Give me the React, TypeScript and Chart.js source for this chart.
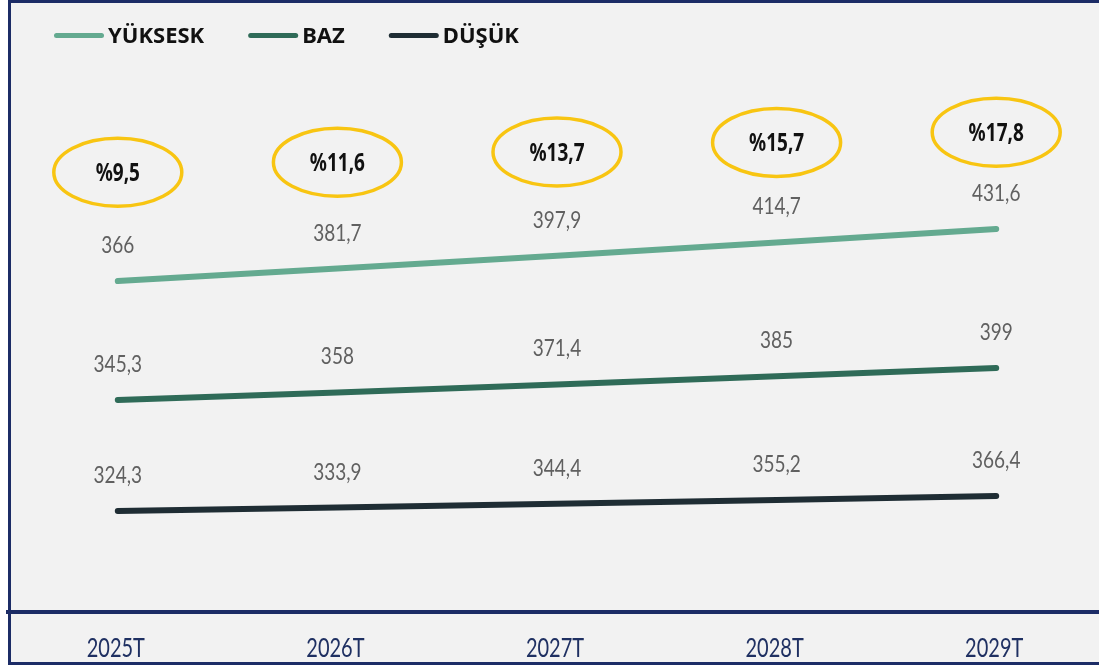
import React, { useEffect, useRef } from 'react';
import { Chart, registerables } from 'chart.js';

Chart.register(...registerables);

// ---- data ----
const categories: string[] = ['2025T', '2026T', '2027T', '2028T', '2029T'];
const yuksekValues: number[] = [366, 381.7, 397.9, 414.7, 431.6];
const bazValues: number[] = [345.3, 358, 371.4, 385, 399];
const dusukValues: number[] = [324.3, 333.9, 344.4, 355.2, 366.4];
const growthValues: number[] = [9.5, 11.6, 13.7, 15.7, 17.8];
const seriesNames: string[] = ['YÜKSESK', 'BAZ', 'DÜŞÜK'];
const seriesColors: string[] = ['#64aa90', '#2f6b58', '#1f2d34'];

// ---- hidden axis ranges (each series is drawn on its own scale) ----
const yuksekRange = { min: -51.57, max: 644.8 };
const bazRange = { min: -10.46, max: 915.85 };
const dusukRange = { min: 40.83, max: 1590.1 };
const growthRange = { min: -81.73, max: 32.79 };

const NAVY = '#1c2c66';
const fmt = (v: number) => String(v).replace('.', ',');

function stretchedText(
  ctx: CanvasRenderingContext2D,
  text: string,
  x: number,
  baseline: number,
  font: string,
  color: string,
  sy: number,
  align: CanvasTextAlign = 'center'
) {
  ctx.save();
  ctx.translate(x, baseline);
  ctx.scale(1, sy);
  ctx.font = font;
  ctx.fillStyle = color;
  ctx.textAlign = align;
  ctx.textBaseline = 'alphabetic';
  ctx.fillText(text, 0, 0);
  ctx.restore();
}

const overlayPlugin = {
  id: 'overlay',
  afterDatasetsDraw(chart: any) {
    const ctx: CanvasRenderingContext2D = chart.ctx;
    // value labels
    for (let d = 0; d < 3; d++) {
      const meta = chart.getDatasetMeta(d);
      meta.data.forEach((pt: any, i: number) => {
        const v = chart.data.datasets[d].data[i] as number;
        stretchedText(ctx, fmt(v), pt.x, pt.y - 28, '400 19px Lato', '#606060', 1.22);
      });
    }
    // growth ellipses
    const gm = chart.getDatasetMeta(3);
    gm.data.forEach((pt: any, i: number) => {
      ctx.save();
      ctx.beginPath();
      ctx.ellipse(pt.x, pt.y, 64, 34, 0, 0, Math.PI * 2);
      ctx.strokeStyle = '#f8c512';
      ctx.lineWidth = 3.5;
      ctx.stroke();
      ctx.restore();
      const v = chart.data.datasets[3].data[i] as number;
      stretchedText(ctx, '%' + fmt(v), pt.x, pt.y + 9, 'bold 19px "Noto Sans"', '#111111', 1.3);
    });
  },
  afterDraw(chart: any) {
    const ctx: CanvasRenderingContext2D = chart.ctx;
    // category labels under the axis line
    const xs = chart.scales.x;
    (chart.data.labels as string[]).forEach((lab: string, i: number) => {
      stretchedText(ctx, lab, xs.getPixelForValue(i) - 2, 657, '400 20px Lato', '#1f3062', 1.38);
    });
    // legend
    let x = 54;
    const cy = 35.5;
    for (let d = 0; d < 3; d++) {
      const ds = chart.data.datasets[d];
      ctx.save();
      ctx.beginPath();
      ctx.lineCap = 'round';
      ctx.lineWidth = 5;
      ctx.strokeStyle = ds.borderColor;
      ctx.moveTo(x + 2.5, cy);
      ctx.lineTo(x + 47.5, cy);
      ctx.stroke();
      ctx.font = 'bold 22px "Noto Sans"';
      ctx.fillStyle = '#111111';
      ctx.textAlign = 'left';
      ctx.textBaseline = 'alphabetic';
      const tx = x + 54;
      ctx.fillText(ds.label, tx, 43);
      const w = ctx.measureText(ds.label).width;
      ctx.restore();
      x = tx + w + 44;
    }
  },
};

export default function App() {
  const canvasRef = useRef<HTMLCanvasElement | null>(null);

  useEffect(() => {
    if (!canvasRef.current) return;
    const lineDs = (label: string, data: number[], color: string, axis: string) => ({
      label,
      data,
      borderColor: color,
      backgroundColor: color,
      yAxisID: axis,
      borderWidth: 6,
      borderCapStyle: 'round' as const,
      borderJoinStyle: 'round' as const,
      pointRadius: 0,
      tension: 0,
    });
    const chart = new Chart(canvasRef.current, {
      type: 'line',
      data: {
        labels: categories,
        datasets: [
          lineDs(seriesNames[0], yuksekValues, seriesColors[0], 'yY'),
          lineDs(seriesNames[1], bazValues, seriesColors[1], 'yB'),
          lineDs(seriesNames[2], dusukValues, seriesColors[2], 'yD'),
          {
            label: 'growth',
            data: growthValues,
            yAxisID: 'yG',
            showLine: false,
            pointRadius: 0,
            borderWidth: 0,
          } as any,
        ],
      },
      options: {
        animation: false,
        responsive: false,
        devicePixelRatio: 1,
        events: [],
        layout: { padding: { left: 8, right: 6, top: 60, bottom: 0 } },
        plugins: {
          legend: { display: false },
          tooltip: { enabled: false },
        },
        scales: {
          x: {
            type: 'category',
            offset: true,
            grid: { display: false, drawTicks: false },
            border: { display: true, color: NAVY, width: 4 },
            ticks: { display: false },
            afterFit: (s: any) => {
              s.height = 54;
            },
          },
          yY: { display: false, min: yuksekRange.min, max: yuksekRange.max },
          yB: { display: false, min: bazRange.min, max: bazRange.max },
          yD: { display: false, min: dusukRange.min, max: dusukRange.max },
          yG: { display: false, min: growthRange.min, max: growthRange.max },
        } as any,
      },
      plugins: [overlayPlugin],
    });
    return () => chart.destroy();
  }, []);

  return (
    <div
      style={{
        position: 'fixed',
        left: 0,
        top: 0,
        width: 1099,
        height: 670,
        overflow: 'hidden',
        background: '#ffffff',
      }}
    >
      <div
        style={{
          position: 'absolute',
          left: 8,
          top: 0,
          width: 1160,
          height: 665,
          boxSizing: 'border-box',
          border: `3px solid ${NAVY}`,
          background: '#f2f2f2',
        }}
      />
      <canvas
        ref={canvasRef}
        width={1112}
        height={666}
        style={{ position: 'absolute', left: 0, top: 0 }}
      />
    </div>
  );
}
